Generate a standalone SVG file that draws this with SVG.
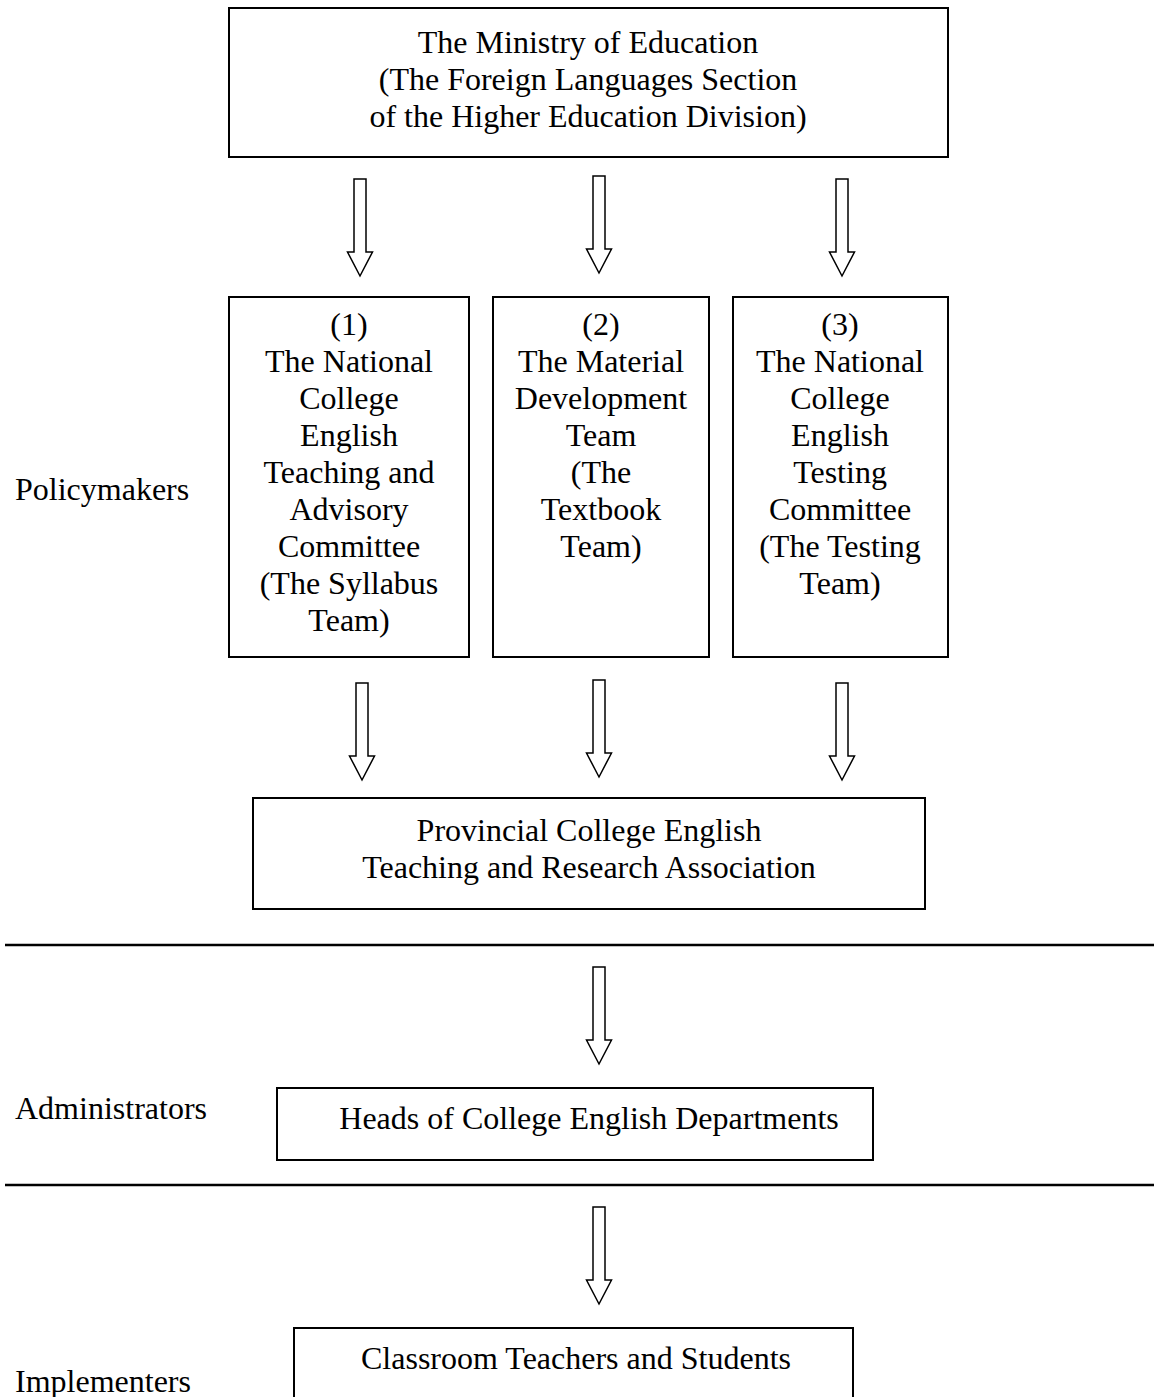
<svg xmlns="http://www.w3.org/2000/svg" xmlns:xlink="http://www.w3.org/1999/xlink" width="1154" height="1397" viewBox="0 0 1154 1397">
<style>
.box{fill:#fff;stroke:#000;stroke-width:2}
.t{font-family:"Liberation Serif","Times New Roman",serif;font-size:32px;fill:#000}
.c{text-anchor:middle}
.arr{fill:#fff;stroke:#000;stroke-width:1.5;stroke-linejoin:miter}
.sep{stroke:#000;stroke-width:2.5}
</style>
<defs>
<path id="ar" class="arr" d="M-6,0 H6 V73 H12.5 L0,97 L-12.5,73 H-6 Z"/>
</defs>
<rect width="1154" height="1397" fill="#fff"/>
<g id="connectors">
<use xlink:href="#ar" transform="translate(360,179)"/>
<use xlink:href="#ar" transform="translate(599,176)"/>
<use xlink:href="#ar" transform="translate(842,179)"/>
<use xlink:href="#ar" transform="translate(362,683)"/>
<use xlink:href="#ar" transform="translate(599,680)"/>
<use xlink:href="#ar" transform="translate(842,683)"/>
<use xlink:href="#ar" transform="translate(599,967)"/>
<use xlink:href="#ar" transform="translate(599,1207)"/>
</g>
<g id="separators">
<line class="sep" x1="5" y1="945" x2="1154" y2="945"/>
<line class="sep" x1="5" y1="1185" x2="1154" y2="1185"/>
</g>
<g id="ministry">
<rect class="box" x="229" y="8" width="719" height="149"/>
<text class="t c" x="588" y="53">The Ministry of Education</text>
<text class="t c" x="588" y="90">(The Foreign Languages Section</text>
<text class="t c" x="588" y="127">of the Higher Education Division)</text>
</g>
<g id="syllabus">
<rect class="box" x="229" y="297" width="240" height="360"/>
<text class="t c" x="349" y="335">(1)</text>
<text class="t c" x="349" y="372">The National</text>
<text class="t c" x="349" y="409">College</text>
<text class="t c" x="349" y="446">English</text>
<text class="t c" x="349" y="483">Teaching and</text>
<text class="t c" x="349" y="520">Advisory</text>
<text class="t c" x="349" y="557">Committee</text>
<text class="t c" x="349" y="594">(The Syllabus</text>
<text class="t c" x="349" y="631">Team)</text>
</g>
<g id="textbook">
<rect class="box" x="493" y="297" width="216" height="360"/>
<text class="t c" x="601" y="335">(2)</text>
<text class="t c" x="601" y="372">The Material</text>
<text class="t c" x="601" y="409">Development</text>
<text class="t c" x="601" y="446">Team</text>
<text class="t c" x="601" y="483">(The</text>
<text class="t c" x="601" y="520">Textbook</text>
<text class="t c" x="601" y="557">Team)</text>
</g>
<g id="testing">
<rect class="box" x="733" y="297" width="215" height="360"/>
<text class="t c" x="840" y="335">(3)</text>
<text class="t c" x="840" y="372">The National</text>
<text class="t c" x="840" y="409">College</text>
<text class="t c" x="840" y="446">English</text>
<text class="t c" x="840" y="483">Testing</text>
<text class="t c" x="840" y="520">Committee</text>
<text class="t c" x="840" y="557">(The Testing</text>
<text class="t c" x="840" y="594">Team)</text>
</g>
<g id="provincial">
<rect class="box" x="253" y="798" width="672" height="111"/>
<text class="t c" x="589" y="841">Provincial College English</text>
<text class="t c" x="589" y="878">Teaching and Research Association</text>
</g>
<g id="heads">
<rect class="box" x="277" y="1088" width="596" height="72"/>
<text class="t c" x="589" y="1129">Heads of College English Departments</text>
</g>
<g id="classroom">
<rect class="box" x="294" y="1328" width="559" height="90"/>
<text class="t c" x="576" y="1369">Classroom Teachers and Students</text>
</g>
<g id="labels">
<text class="t" x="15" y="500">Policymakers</text>
<text class="t" x="15" y="1119">Administrators</text>
<text class="t" x="15" y="1392">Implementers</text>
</g>
</svg>
